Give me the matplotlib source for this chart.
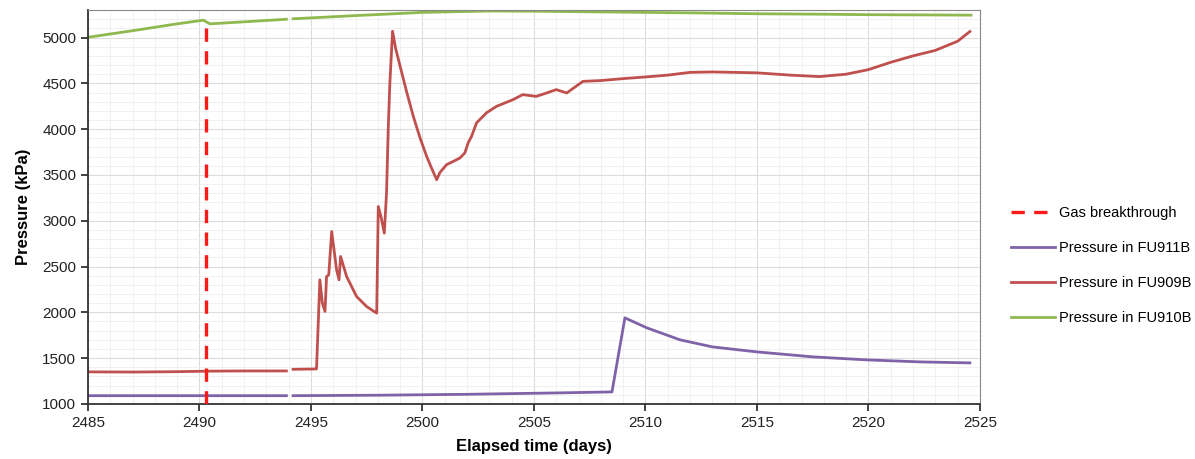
import numpy as np
import matplotlib.pyplot as plt
from matplotlib.ticker import MultipleLocator

plt.rcParams['font.family'] = ['Liberation Sans', 'DejaVu Sans']

# FU910 (verde)
t_910 = [2485, 2487, 2489, 2490.17, 2490.47, 2492, 2493.9, np.nan, 2494.2, 2495, 2497, 2500,
         2503, 2505, 2508, 2510, 2512, 2515, 2518, 2520, 2522, 2524.6]
p_910 = [5003, 5075, 5150, 5190, 5150, 5172, 5200, np.nan, 5205, 5215, 5240, 5275,
         5290, 5288, 5280, 5275, 5270, 5260, 5255, 5250, 5248, 5245]

# FU909 (vermelho)
t_909 = [2485, 2487, 2489, 2490.5, 2492, 2493.9, np.nan, 2494.2, 2495.25, 2495.3, 2495.4, 2495.51,
         2495.63, 2495.7, 2495.8, 2495.93, 2496.15, 2496.26, 2496.33, 2496.6, 2497.05, 2497.5,
         2497.95, 2498.02, 2498.14, 2498.29, 2498.39, 2498.47, 2498.54, 2498.66, 2498.8, 2499.0,
         2499.3, 2499.59, 2499.9, 2500.19, 2500.4, 2500.64, 2500.78, 2501.08, 2501.4, 2501.68,
         2501.9, 2502.05, 2502.2, 2502.43, 2502.88, 2503.33, 2504.06, 2504.5, 2505.1, 2505.57,
         2506.0, 2506.47, 2507.2, 2507.96, 2509.16, 2510, 2511, 2512, 2513, 2515, 2516.5, 2517.8,
         2519, 2520, 2521, 2522, 2523, 2524, 2524.55]
p_909 = [1350, 1348, 1352, 1358, 1360, 1360, np.nan, 1378, 1382, 1700, 2355, 2103,
         2010, 2390, 2410, 2883, 2464, 2355, 2610, 2391, 2172, 2063,
         1991, 3156, 3047, 2865, 3303, 4031, 4505, 5069, 4880, 4686,
         4400, 4140, 3900, 3703, 3580, 3448, 3525, 3612, 3650, 3685,
         3740, 3850, 3920, 4070, 4180, 4250, 4322, 4377, 4358, 4395,
         4432, 4395, 4522, 4530, 4555, 4570, 4590, 4620, 4625, 4615, 4590, 4574,
         4600, 4650, 4730, 4800, 4860, 4960, 5066]

# FU911 (roxo)
t_911 = [2485, 2489, 2493.9, np.nan, 2494.2, 2498, 2502, 2506, 2508.5, 2509.08, 2510.07,
         2511.55, 2513.0, 2515.0, 2517.5, 2519.9, 2522.3, 2524.55]
p_911 = [1090, 1090, 1090, np.nan, 1090, 1095, 1105, 1120, 1131, 1940, 1830,
         1700, 1623, 1568, 1514, 1481, 1459, 1448]

t_breakthrough = 2490.3
p_breakthrough_top = 5200

fig = plt.figure(figsize=(11.95, 4.59), dpi=100)
ax = fig.add_axes([0.0736, 0.12, 0.7464, 0.858])

ax.plot([t_breakthrough, t_breakthrough], [1000, p_breakthrough_top], color='#ff1a1a',
        lw=2.4, dashes=(4, 2.8), label='Gas breakthrough', zorder=4)
ax.plot(t_911, p_911, color='#7f63a8', lw=2, label='Pressure in FU911B')
ax.plot(t_909, p_909, color='#c0504d', lw=2, label='Pressure in FU909B')
ax.plot(t_910, p_910, color='#8fb84f', lw=2, label='Pressure in FU910B')

ax.set_xlim(2485, 2525)
ax.set_ylim(1000, 5300)
ax.xaxis.set_major_locator(MultipleLocator(5))
ax.xaxis.set_minor_locator(MultipleLocator(1))
ax.yaxis.set_major_locator(MultipleLocator(500))
ax.yaxis.set_minor_locator(MultipleLocator(100))
ax.grid(which='major', color='#dcdcdc', lw=0.8)
ax.grid(which='minor', color='#efefef', lw=0.6)
ax.set_axisbelow(True)
ax.tick_params(which='minor', length=0)
ax.tick_params(which='major', direction='out', length=5, width=1.2, labelsize=11, colors='#222222')
for s in ax.spines.values():
    s.set_color('#888888')
for s in ['left', 'bottom']:
    ax.spines[s].set_color('#333333')
    ax.spines[s].set_linewidth(1.3)

ax.set_xlabel('Elapsed time (days)', fontsize=12, fontweight='bold', labelpad=7)
ax.set_ylabel('Pressure (kPa)', fontsize=12, fontweight='bold', labelpad=8)

fig.legend(loc='upper left', bbox_to_anchor=(0.835, 0.58), frameon=False, fontsize=10.5,
           handlelength=3.0, handletextpad=0.3, labelspacing=1.45)

fig.savefig('out.png', dpi=100)
